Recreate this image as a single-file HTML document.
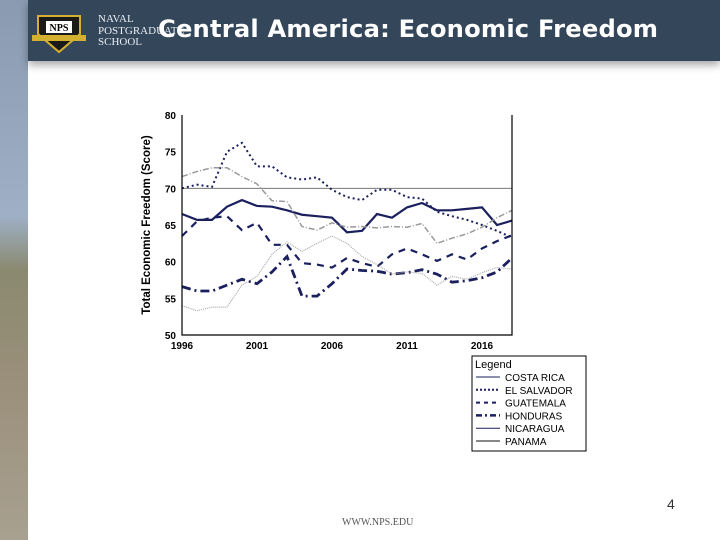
<!DOCTYPE html>
<html><head><meta charset="utf-8"><style>
body{margin:0;width:720px;height:540px;overflow:hidden;background:#fff;font-family:"Liberation Sans",sans-serif;position:relative}
#strip{position:absolute;left:0;top:0;width:28px;height:540px;background:linear-gradient(#8a9ab0 0%,#9fb0c6 40%,#8a8a70 50%,#9a8f7a 70%,#a8a090 100%)}
#hdr{position:absolute;left:28px;top:0;width:692px;height:61px;background:#34465a;box-shadow:0 4px 8px rgba(0,0,0,.35)}
#title{position:absolute;left:158px;top:15px;color:#fff;font:bold 24.2px "DejaVu Sans","Liberation Sans",sans-serif;letter-spacing:0.2px}
#school{position:absolute;left:98px;top:14px;color:#e8eef4;font:11px "Liberation Serif",serif;line-height:11.5px}
#num{position:absolute;left:667px;top:496px;font-size:14px;color:#333}
#url{position:absolute;left:342px;top:517px;font:10px "Liberation Serif",serif;color:#555}
</style></head><body>
<div id="strip"></div>
<div id="hdr"></div>
<svg style="position:absolute;left:32px;top:12px" width="54" height="42">
<path d="M6 4 L48 4 L48 22 L27 40 L6 22 Z" fill="#1a1a1a" stroke="#d4b030" stroke-width="2"/>
<rect x="14" y="9" width="26" height="12" fill="#fff"/><text x="27" y="19" font-size="10" font-weight="bold" text-anchor="middle" font-family="Liberation Serif">NPS</text>
<rect x="0" y="23" width="54" height="6" fill="#d4b030"/></svg>
<div id="school">NAVAL<br>POSTGRADUATE<br>SCHOOL</div>
<div id="title">Central America: Economic Freedom</div>
<svg id="chart" style="position:absolute;left:0;top:0" width="720" height="540"></svg>
<div id="num">4</div>
<div id="url">WWW.NPS.EDU</div>
<script>
const years=[1996,1997,1998,1999,2000,2001,2002,2003,2004,2005,2006,2007,2008,2009,2010,2011,2012,2013,2014,2015,2016,2017,2018];
const costaRica=[66.5,65.7,65.7,67.5,68.4,67.6,67.5,67.0,66.4,66.2,66.0,64.0,64.2,66.5,66.0,67.4,68.0,67.0,67.0,67.2,67.4,65.0,65.6];
const elSalvador=[70.0,70.5,70.2,75.0,76.2,73.0,73.0,71.5,71.2,71.5,69.8,68.8,68.4,69.8,69.8,68.8,68.6,66.8,66.2,65.7,65.0,64.2,63.3];
const guatemala=[63.5,65.5,66.0,66.2,64.3,65.3,62.3,62.3,59.8,59.6,59.2,60.5,59.8,59.3,61.0,61.8,61.0,60.1,61.0,60.3,61.8,62.8,63.6];
const honduras=[56.6,56.0,56.0,56.8,57.6,57.0,58.6,60.7,55.3,55.3,57.0,59.0,58.8,58.7,58.3,58.5,58.9,58.3,57.2,57.4,57.8,58.6,60.5];
const nicaragua=[54.0,53.3,53.8,53.8,56.8,58.0,61.0,62.7,61.4,62.5,63.5,62.5,60.7,59.6,58.3,58.6,58.4,56.8,58.0,57.6,58.5,59.2,59.0];
const panama=[71.6,72.3,72.8,72.8,71.6,70.6,68.3,68.2,64.8,64.3,65.3,64.7,64.8,64.6,64.8,64.7,65.2,62.5,63.2,63.8,64.7,66.0,67.0];
const yTicks=[50,55,60,65,70,75,80];
const xTicks=[1996,2001,2006,2011,2016];
const refLine=70;
const names=["COSTA RICA","EL SALVADOR","GUATEMALA","HONDURAS","NICARAGUA","PANAMA"];
const X0=182,X1=512,Y0=335,Y1=115;
const xs=y=>X0+(y-1996)/(2018-1996)*(X1-X0);
const ys=v=>Y0-(v-50)/30*(Y0-Y1);
const svg=document.getElementById('chart');const NS='http://www.w3.org/2000/svg';
function mk(t,a,p){const e=document.createElementNS(NS,t);for(const k in a)e.setAttribute(k,a[k]);(p||svg).appendChild(e);return e;}
let e;
e=mk('rect',{x:X0,y:Y1,width:X1-X0,height:Y0-Y1,fill:'#fff',stroke:'none'});


e=mk('line',{x1:X0,x2:X1,y1:ys(refLine),y2:ys(refLine),stroke:'#777','stroke-width':1});


const styles=[
 {d:costaRica,c:'#1a1f5e',w:2.2,da:'',lc:'#1a1f5e',lw:1,lda:''},
 {d:elSalvador,c:'#1a1f5e',w:2,da:'2 3',lc:'#1a1f5e',lw:2,lda:'2 2'},
 {d:guatemala,c:'#1a1f5e',w:2.2,da:'7 6',lc:'#1a1f5e',lw:2,lda:'4 4'},
 {d:honduras,c:'#1a1f5e',w:2.8,da:'9 4 2 4',lc:'#1a1f5e',lw:2.5,lda:'6 3 2 3'},
 {d:nicaragua,c:'#aaa',w:1.2,da:'1 1',lc:'#1a1f5e',lw:1,lda:''},
 {d:panama,c:'#999',w:1.5,da:'6 2 1 2',lc:'#888',lw:2,lda:''}];
const keys=['costa-rica','el-salvador','guatemala','honduras','nicaragua','panama'];
styles.forEach((s,i)=>{const pts=s.d.map((v,j)=>xs(years[j])+','+ys(v)).join(' ');
 const p=mk('polyline',{points:pts,fill:'none',stroke:s.c,'stroke-width':s.w,'stroke-dasharray':s.da});
 
 });
e=mk('path',{d:`M${X0} ${Y1} V${Y0} H${X1} V${Y1}`,fill:'none',stroke:'#000','stroke-width':1.2});


yTicks.forEach(t=>{const tx=mk('text',{x:X0-6,y:ys(t)+4,'text-anchor':'end','font-size':10,'font-weight':'bold','font-family':'Liberation Sans'});tx.textContent=t;
 
 });
xTicks.forEach(t=>{const tx=mk('text',{x:xs(t),y:Y0+14,'text-anchor':'middle','font-size':10,'font-weight':'bold','font-family':'Liberation Sans'});tx.textContent=t;
 
 });
e=mk('text',{x:0,y:0,transform:`translate(150,${(Y0+Y1)/2}) rotate(-90)`,'text-anchor':'middle','font-size':11.5,'font-weight':'bold','font-family':'Liberation Sans'});
e.textContent='Total Economic Freedom (Score)';


const lg=mk('g',{});


mk('rect',{x:472,y:356,width:114,height:95,fill:'#fff',stroke:'#000','stroke-width':1},lg);
e=mk('text',{x:475,y:368,'font-size':11,'font-family':'Liberation Sans'},lg);e.textContent='Legend';
styles.forEach((s,i)=>{const y=381+i*12.8;
 const g=mk('g',{},lg);
 
 
 mk('line',{x1:476,x2:500,y1:y-4,y2:y-4,stroke:s.lc,'stroke-width':s.lw,'stroke-dasharray':s.lda},g);
 const t=mk('text',{x:505,y:y,'font-size':10,'font-family':'Liberation Sans'},g);t.textContent=names[i];});
</script>
</body></html>
